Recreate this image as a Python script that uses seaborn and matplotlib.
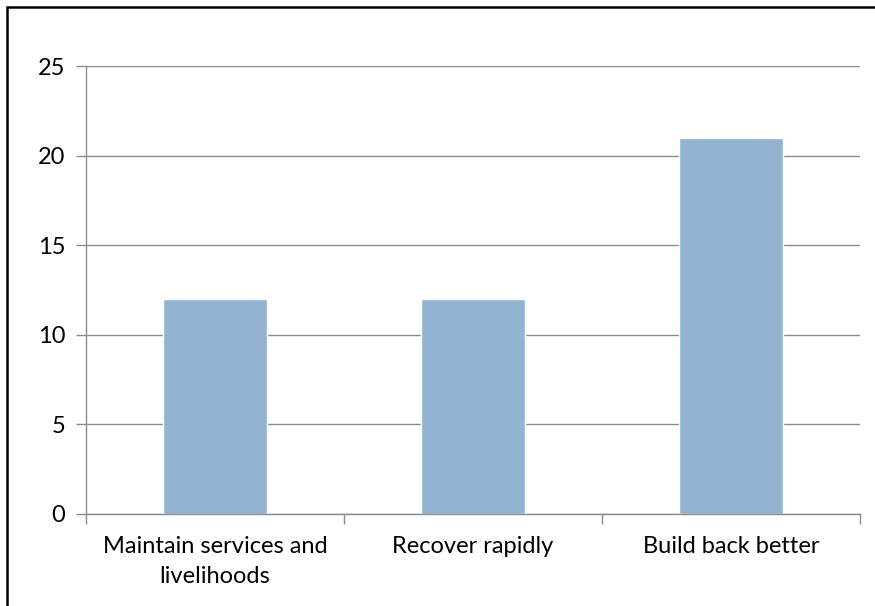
import matplotlib
matplotlib.use("Agg")
import matplotlib.pyplot as plt
from matplotlib.patches import Rectangle
import seaborn as sns
import pandas as pd

# chart data
categories = ["Maintain services and\nlivelihoods", "Recover rapidly", "Build back better"]
values = [12, 12, 21]
y_ticks = [0, 5, 10, 15, 20, 25]

sns.set_style("white")
plt.rcParams['font.family'] = ['Lato', 'DejaVu Sans']

df = pd.DataFrame({"category": categories, "value": values})

fig = plt.figure(figsize=(8.75, 6.06), dpi=100)
ax = fig.add_axes([86 / 875, 1 - 514 / 606, 774 / 875, 448 / 606])

sns.barplot(data=df, x="category", y="value", color="#93B3D3",
            width=0.4, saturation=1, ax=ax)

ax.set_ylim(0, 25)
ax.set_xlim(-0.5, 2.5)
ax.set_yticks(y_ticks)
ax.set_xlabel("")
ax.set_ylabel("")

grid_c = "#8c8c8c"
ax.yaxis.grid(True, color=grid_c, linewidth=1)
ax.set_axisbelow(True)
for side in ["top", "right"]:
    ax.spines[side].set_visible(False)
for side in ["left", "bottom"]:
    ax.spines[side].set_color(grid_c)
    ax.spines[side].set_linewidth(1)

ax.tick_params(axis="y", length=7, width=1, color=grid_c, pad=8,
               labelsize=17, labelcolor="black", left=True)
ax.set_xticks([-0.5, 0.5, 1.5, 2.5], minor=True)
ax.tick_params(axis="x", which="minor", length=7, width=1, color=grid_c,
               bottom=True, direction="out")
ax.tick_params(axis="x", which="major", length=0, pad=16,
               labelsize=17, labelcolor="black")
for lbl in ax.get_xticklabels():
    lbl.set_linespacing(1.5)

# outer chart border (right/bottom edges fall outside the image)
fig.patches.append(Rectangle((7 / 875, -0.1), 1.2, 1 - 7 / 606 + 0.1,
                             transform=fig.transFigure, fill=False,
                             edgecolor="black", linewidth=1.8))

fig.savefig("out.png", dpi=100)
